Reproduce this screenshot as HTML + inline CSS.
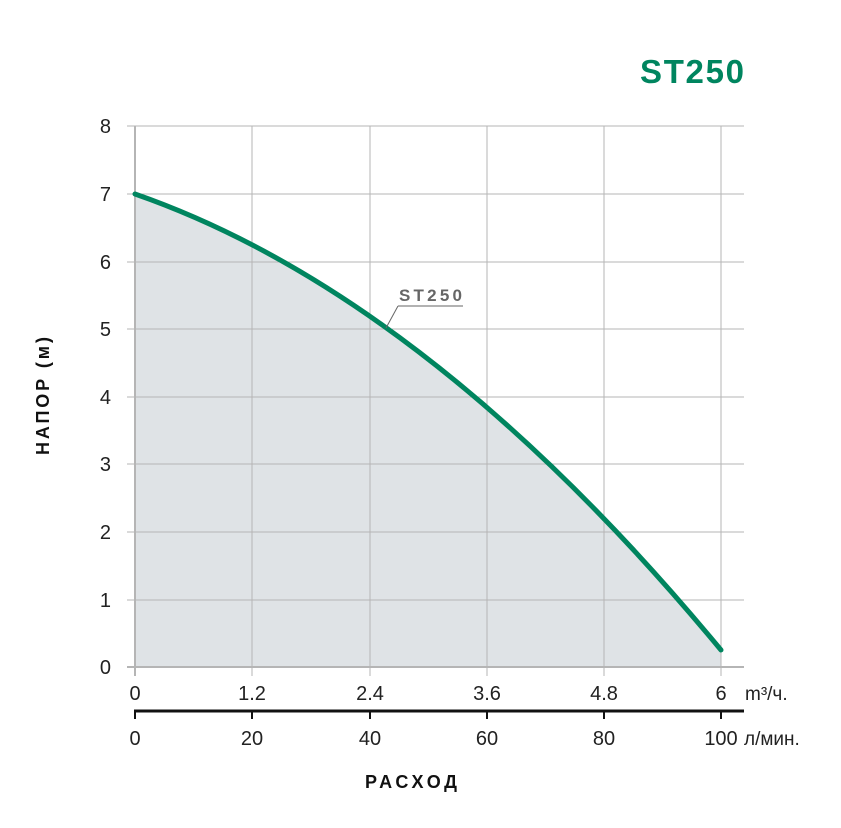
<!DOCTYPE html>
<html><head><meta charset="utf-8"><style>
body{margin:0;background:#fff;}
svg{display:block;font-family:"Liberation Sans",sans-serif;}
</style></head><body>
<svg width="841" height="828" viewBox="0 0 841 828">
<path d="M135,194 Q428,296 721,650 L721,667 L135,667 Z" fill="#dfe3e6"/>
<g stroke="#b5b5b5" stroke-width="1">
<line x1="127" y1="126" x2="744" y2="126"/>
<line x1="127" y1="194" x2="744" y2="194"/>
<line x1="127" y1="262" x2="744" y2="262"/>
<line x1="127" y1="329" x2="744" y2="329"/>
<line x1="127" y1="397" x2="744" y2="397"/>
<line x1="127" y1="464" x2="744" y2="464"/>
<line x1="127" y1="532" x2="744" y2="532"/>
<line x1="127" y1="600" x2="744" y2="600"/>
<line x1="127" y1="667" x2="744" y2="667" stroke-width="2"/>
<line x1="135" y1="126" x2="135" y2="676" stroke-width="2"/>
<line x1="252" y1="126" x2="252" y2="676"/>
<line x1="370" y1="126" x2="370" y2="676"/>
<line x1="487" y1="126" x2="487" y2="676"/>
<line x1="604" y1="126" x2="604" y2="676"/>
<line x1="721" y1="126" x2="721" y2="676"/>
</g>
<path d="M135,194 Q428,296 721,650" fill="none" stroke="#00855f" stroke-width="5" stroke-linecap="round"/>
<g stroke="#111" stroke-width="3"><line x1="134" y1="711" x2="744" y2="711"/></g>
<g stroke="#111" stroke-width="2">
<line x1="135" y1="711" x2="135" y2="719"/><line x1="252" y1="711" x2="252" y2="719"/><line x1="370" y1="711" x2="370" y2="719"/><line x1="487" y1="711" x2="487" y2="719"/><line x1="604" y1="711" x2="604" y2="719"/><line x1="721" y1="711" x2="721" y2="719"/>
</g>
<line x1="386" y1="328" x2="398" y2="306" stroke="#666" stroke-width="1"/>
<line x1="398" y1="306" x2="463" y2="306" stroke="#666" stroke-width="1"/>
<text x="399" y="301" font-size="17" font-weight="bold" fill="#666" textLength="63">ST250</text>
<text x="744" y="83" font-size="33" font-weight="bold" fill="#00855f" text-anchor="end" textLength="104">ST250</text>
<g font-size="20" fill="#222" text-anchor="end">
<text x="111" y="133">8</text><text x="111" y="201">7</text><text x="111" y="269">6</text><text x="111" y="336">5</text><text x="111" y="404">4</text><text x="111" y="471">3</text><text x="111" y="539">2</text><text x="111" y="607">1</text><text x="111" y="674">0</text>
</g>
<g font-size="20" fill="#222" text-anchor="middle">
<text x="135" y="700">0</text><text x="252" y="700">1.2</text><text x="370" y="700">2.4</text><text x="487" y="700">3.6</text><text x="604" y="700">4.8</text><text x="721" y="700">6</text>
<text x="135" y="745">0</text><text x="252" y="745">20</text><text x="370" y="745">40</text><text x="487" y="745">60</text><text x="604" y="745">80</text><text x="721" y="745">100</text>
</g>
<text x="745" y="700" font-size="19" fill="#222">m³/ч.</text>
<text x="744" y="745" font-size="19" fill="#222">л/мин.</text>
<text x="411" y="788" font-size="18" font-weight="bold" fill="#111" text-anchor="middle" textLength="92">РАСХОД</text>
<text transform="translate(49,396) rotate(-90)" font-size="18" font-weight="bold" fill="#111" text-anchor="middle" textLength="118">НАПОР (м)</text>
</svg>
</body></html>
